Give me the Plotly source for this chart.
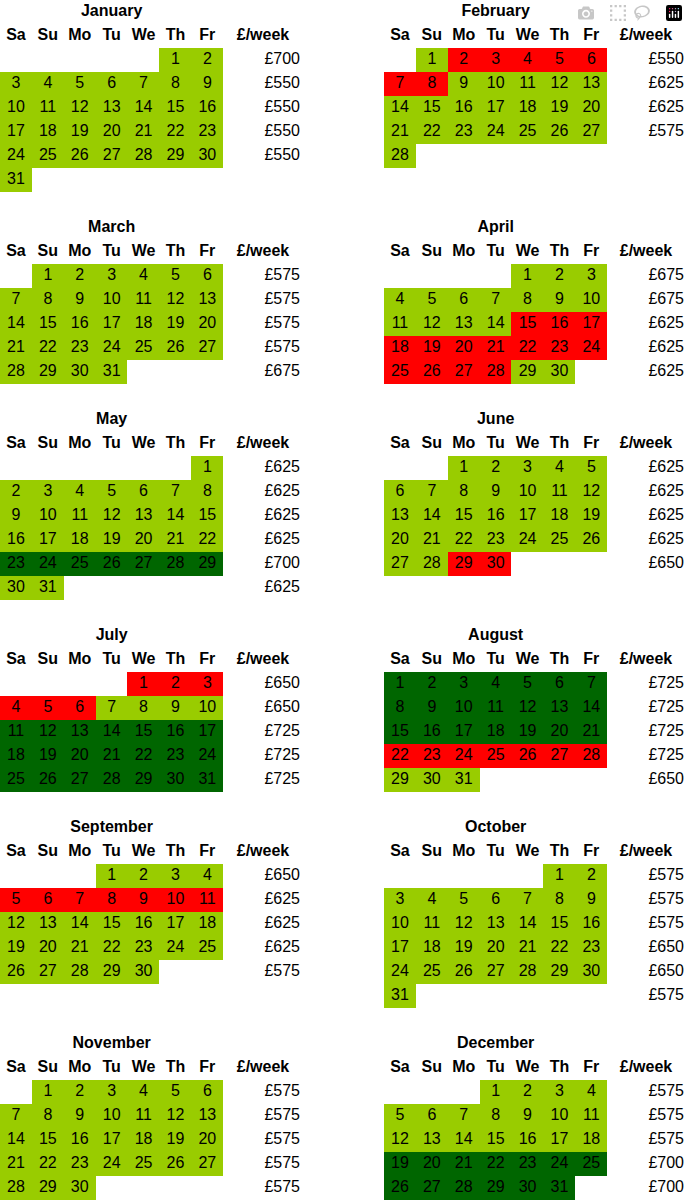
import plotly.graph_objects as go

months = ["January", "February", "March", "April", "May", "June",
          "July", "August", "September", "October", "November", "December"]
days_in_month = [31, 28, 31, 30, 31, 30, 31, 31, 30, 31, 30, 31]
# column of day 1 (Sa=0 ... Fr=6)
first_col = [5, 1, 1, 4, 6, 2, 4, 0, 3, 5, 1, 3]
weekday_labels = ["Sa", "Su", "Mo", "Tu", "We", "Th", "Fr"]

# coloured ranges: (first day, last day, code) 2=red booked, 3=dark green peak, default 1=green
special = [
    [],
    [(2, 8, 2)],
    [],
    [(15, 28, 2)],
    [(23, 29, 3)],
    [(29, 30, 2)],
    [(1, 6, 2), (11, 31, 3)],
    [(1, 21, 3), (22, 28, 2)],
    [(5, 11, 2)],
    [],
    [],
    [(19, 31, 3)],
]

prices = [
    [700, 550, 550, 550, 550, None],
    [550, 625, 625, 575, None],
    [575, 575, 575, 575, 675],
    [675, 675, 625, 625, 625],
    [625, 625, 625, 625, 700, 625],
    [625, 625, 625, 625, 650],
    [650, 650, 725, 725, 725],
    [725, 725, 725, 725, 650],
    [650, 625, 625, 625, 575],
    [575, 575, 575, 650, 650, 575],
    [575, 575, 575, 575, 575],
    [575, 575, 575, 700, 700],
]

block_rows = [0, 9, 17, 26, 34, 43]
ROW_H = 24
CELL_W = 31.9
N_ROWS = 50
side_x0 = [0, 384]
price_right = [300, 684]
price_head = [263, 646]

colorscale = [[0, "#99cc00"], [0.333, "#99cc00"], [0.334, "#ff0000"], [0.666, "#ff0000"],
              [0.667, "#006600"], [1, "#006600"]]

fig = go.Figure()
font = dict(family="Liberation Sans, Arial", size=16, color="black")
bold = dict(family="Liberation Sans, Arial", size=16, color="black", weight="bold")

for side in range(2):
    z = [[None] * 7 for _ in range(N_ROWS)]
    tx, ty, tt = [], [], []
    hx, hy, ht = [], [], []
    px_, py_, pt = [], [], []
    x0 = side_x0[side]
    for m in range(side, 12, 2):
        r0 = block_rows[m // 2]
        # title and header
        hx.append(x0 + 3.5 * CELL_W); hy.append(r0 * ROW_H + 12); ht.append(months[m])
        for c, lab in enumerate(weekday_labels):
            hx.append(x0 + (c + 0.5) * CELL_W); hy.append((r0 + 1) * ROW_H + 12); ht.append(lab)
        hx.append(price_head[side]); hy.append((r0 + 1) * ROW_H + 12); ht.append("£/week")
        for d in range(1, days_in_month[m] + 1):
            pos = first_col[m] + d - 1
            row, col = r0 + 2 + pos // 7, pos % 7
            code = 1
            for a, b, k in special[m]:
                if a <= d <= b:
                    code = k
            z[row][col] = code
            tx.append(x0 + (col + 0.5) * CELL_W); ty.append(row * ROW_H + 12); tt.append(str(d))
        for i, p in enumerate(prices[m]):
            if p is not None:
                px_.append(price_right[side]); py_.append((r0 + 2 + i) * ROW_H + 12); pt.append(f"£{p}")
    fig.add_trace(go.Heatmap(
        z=z, x=[x0 + i * CELL_W for i in range(8)], y=[i * ROW_H for i in range(N_ROWS + 1)],
        colorscale=colorscale, zmin=1, zmax=3, showscale=False, hoverinfo="skip"))
    fig.add_trace(go.Scatter(x=tx, y=ty, text=tt, mode="text", textfont=font, hoverinfo="skip"))
    fig.add_trace(go.Scatter(x=hx, y=hy, text=ht, mode="text", textfont=bold, hoverinfo="skip"))
    fig.add_trace(go.Scatter(x=px_, y=py_, text=pt, mode="text", textposition="middle left",
                             textfont=font, hoverinfo="skip"))

fig.update_xaxes(range=[0, 688], visible=False, fixedrange=True)
fig.update_yaxes(range=[1201, 0], visible=False, fixedrange=True)
fig.update_layout(width=688, height=1201, margin=dict(l=0, r=0, t=0, b=0),
                  plot_bgcolor="white", paper_bgcolor="white", showlegend=False)
fig.write_html("out.html")

# drop the browser's default body margin so the figure fills the window
with open("out.html", encoding="utf-8") as f:
    html = f.read()
html = html.replace("<body>", '<body style="margin:0;overflow:hidden">', 1)
with open("out.html", "w", encoding="utf-8") as f:
    f.write(html)
